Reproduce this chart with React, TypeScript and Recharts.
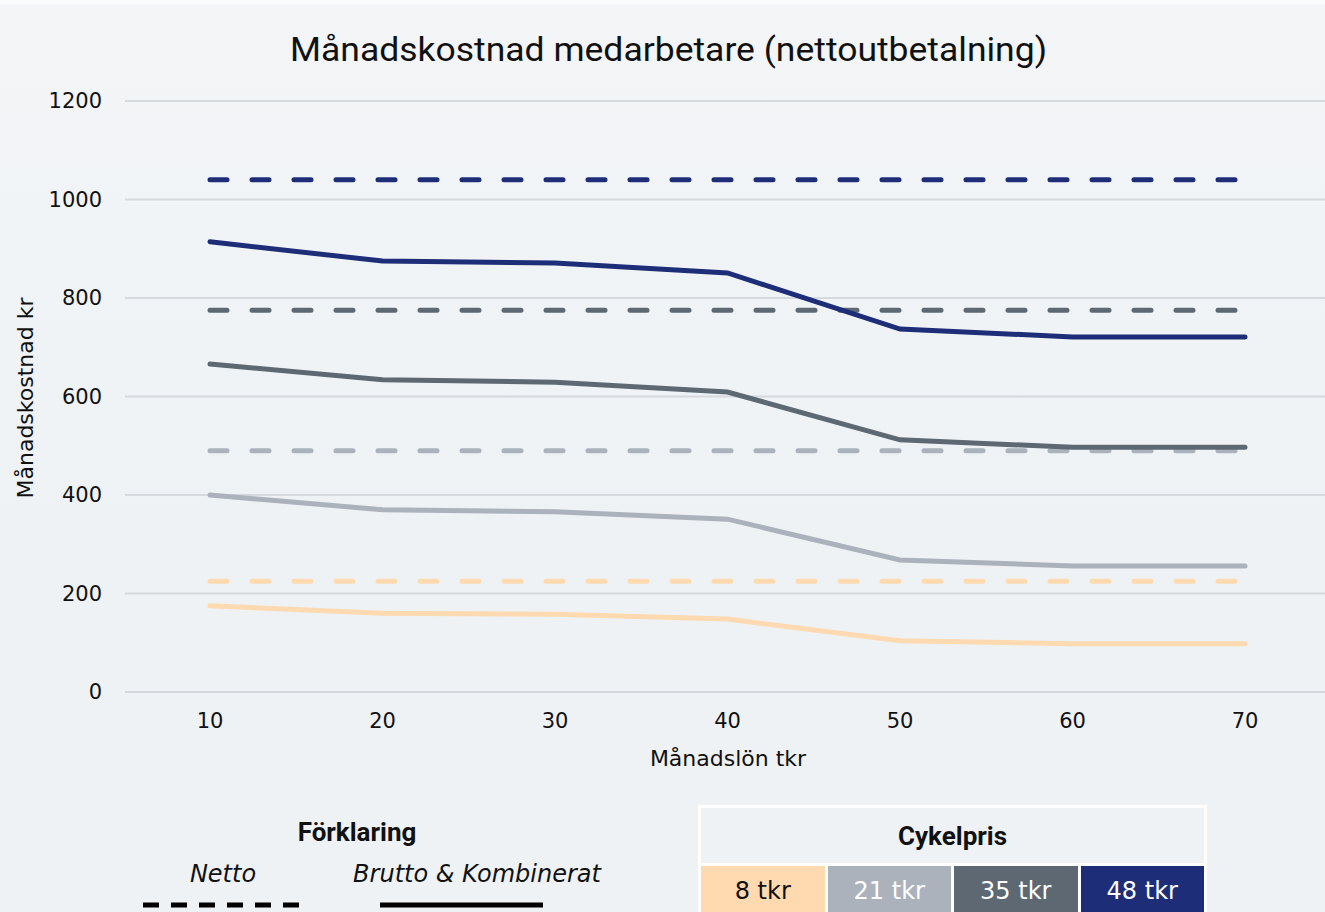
import React from 'react';
import { LineChart, Line, XAxis, YAxis, CartesianGrid } from 'recharts';

const salaries = [10, 20, 30, 40, 50, 60, 70];
const brutto8 = [175, 160, 158, 148, 104, 98, 98];
const brutto21 = [400, 370, 366, 351, 268, 256, 256];
const brutto35 = [666, 634, 629, 609, 512, 497, 497];
const brutto48 = [914, 875, 871, 851, 737, 721, 721];
const netto8 = [225, 225, 225, 225, 225, 225, 225];
const netto21 = [490, 490, 490, 490, 490, 490, 490];
const netto35 = [775, 775, 775, 775, 775, 775, 775];
const netto48 = [1040, 1040, 1040, 1040, 1040, 1040, 1040];
const yTicks = [0, 200, 400, 600, 800, 1000, 1200];
const priceLabels = ['8 tkr', '21 tkr', '35 tkr', '48 tkr'];
const priceColors = ['#ffd9b0', '#abb2bc', '#5d6873', '#1e2d78'];
const priceText = ['#111111', '#ffffff', '#ffffff', '#ffffff'];

const data = salaries.map((s, i) => ({
  salary: s,
  b8: brutto8[i],
  b21: brutto21[i],
  b35: brutto35[i],
  b48: brutto48[i],
  n8: netto8[i],
  n21: netto21[i],
  n35: netto35[i],
  n48: netto48[i],
}));

const FONT = '"DejaVu Sans", Roboto, sans-serif';
const BOLD = 'Roboto, "Liberation Sans", sans-serif';

export default function App() {
  const lineW = 5;
  const dash = '17 25';
  return (
    <div
      style={{
        position: 'absolute',
        left: 0,
        top: 0,
        width: 1325,
        height: 912,
        overflow: 'hidden',
        background: 'linear-gradient(180deg, #f3f5f7 0%, #eef2f5 60%, #eff2f5 100%)',
        fontFamily: FONT,
        color: '#111',
      }}
    >
      <div style={{ position: 'absolute', left: 0, top: 0, width: 1325, height: 5, background: '#fbfbfb' }} />
      <svg style={{ position: 'absolute', left: 0, top: 0 }} width={1325} height={80}>
        <text
          x={290}
          y={61}
          fontSize={34}
          fontFamily={BOLD}
          fill="#111"
          textLength={757}
          lengthAdjust="spacingAndGlyphs"
        >
          Månadskostnad medarbetare (nettoutbetalning)
        </text>
      </svg>
      <div style={{ position: 'absolute', left: 0, top: 0 }}>
        <LineChart width={1332} height={780} data={data} margin={{ top: 101, right: 0, bottom: 0, left: 0 }}>
          <CartesianGrid vertical={false} stroke="#d6d9dd" strokeWidth={2} />
          <XAxis
            dataKey="salary"
            type="category"
            padding={{ left: 85, right: 87 }}
            axisLine={false}
            tickLine={false}
            tickMargin={15}
            height={88}
            tick={{ fontSize: 21, fill: '#111', fontFamily: FONT }}
          />
          <YAxis
            domain={[0, 1200]}
            ticks={yTicks}
            width={125}
            axisLine={false}
            tickLine={false}
            tickMargin={17}
            tick={{ fontSize: 21, fill: '#111', fontFamily: FONT }}
          />
          <Line dataKey="n8" stroke={priceColors[0]} strokeWidth={lineW} strokeDasharray={dash} strokeLinecap="round" dot={false} isAnimationActive={false} />
          <Line dataKey="n21" stroke={priceColors[1]} strokeWidth={lineW} strokeDasharray={dash} strokeLinecap="round" dot={false} isAnimationActive={false} />
          <Line dataKey="n35" stroke={priceColors[2]} strokeWidth={lineW} strokeDasharray={dash} strokeLinecap="round" dot={false} isAnimationActive={false} />
          <Line dataKey="n48" stroke={priceColors[3]} strokeWidth={lineW} strokeDasharray={dash} strokeLinecap="round" dot={false} isAnimationActive={false} />
          <Line dataKey="b8" stroke={priceColors[0]} strokeWidth={lineW} strokeLinecap="round" dot={false} isAnimationActive={false} />
          <Line dataKey="b21" stroke={priceColors[1]} strokeWidth={lineW} strokeLinecap="round" dot={false} isAnimationActive={false} />
          <Line dataKey="b35" stroke={priceColors[2]} strokeWidth={lineW} strokeLinecap="round" dot={false} isAnimationActive={false} />
          <Line dataKey="b48" stroke={priceColors[3]} strokeWidth={lineW} strokeLinecap="round" dot={false} isAnimationActive={false} />
        </LineChart>
      </div>
      <div
        style={{
          position: 'absolute',
          left: 25,
          top: 398,
          transform: 'translate(-50%, -50%) rotate(-90deg)',
          whiteSpace: 'nowrap',
          fontSize: 22,
        }}
      >
        Månadskostnad kr
      </div>
      <div
        style={{
          position: 'absolute',
          left: 728,
          top: 758,
          transform: 'translate(-50%, -50%)',
          whiteSpace: 'nowrap',
          fontSize: 22,
        }}
      >
        Månadslön tkr
      </div>

      {/* Förklaring legend */}
      <div style={{ position: 'absolute', left: 357, top: 832, transform: 'translate(-50%, -50%)', fontSize: 26, fontWeight: 700, whiteSpace: 'nowrap', fontFamily: BOLD }}>
        Förklaring
      </div>
      <div style={{ position: 'absolute', left: 223, top: 874, transform: 'translate(-50%, -50%)', fontSize: 24, fontStyle: 'italic', whiteSpace: 'nowrap' }}>
        Netto
      </div>
      <div style={{ position: 'absolute', left: 477, top: 874, transform: 'translate(-50%, -50%)', fontSize: 24, fontStyle: 'italic', whiteSpace: 'nowrap' }}>
        Brutto &amp; Kombinerat
      </div>
      <svg style={{ position: 'absolute', left: 0, top: 895 }} width={600} height={17}>
        <line x1={143} x2={299} y1={10} y2={10} stroke="#000" strokeWidth={5} strokeDasharray="16 12" />
        <line x1={380} x2={543} y1={10} y2={10} stroke="#000" strokeWidth={5} />
      </svg>

      {/* Cykelpris table */}
      <div
        style={{
          position: 'absolute',
          left: 698,
          top: 805,
          width: 509,
          height: 120,
          boxSizing: 'border-box',
          border: '3px solid #ffffff',
          background: '#ffffff',
        }}
      >
        <div
          style={{
            height: 55,
            background: '#eff2f5',
            display: 'flex',
            alignItems: 'center',
            justifyContent: 'center',
            fontSize: 26,
            fontWeight: 700,
            fontFamily: BOLD,
          }}
        >
          Cykelpris
        </div>
        <div style={{ display: 'flex', marginTop: 3, gap: 3 }}>
          {priceLabels.map((l, i) => (
            <div
              key={l}
              style={{
                flex: 1,
                height: 56,
                background: priceColors[i],
                color: priceText[i],
                fontSize: 24,
                display: 'flex',
                justifyContent: 'center',
                paddingTop: 11,
                boxSizing: 'border-box',
              }}
            >
              {l}
            </div>
          ))}
        </div>
      </div>
    </div>
  );
}
